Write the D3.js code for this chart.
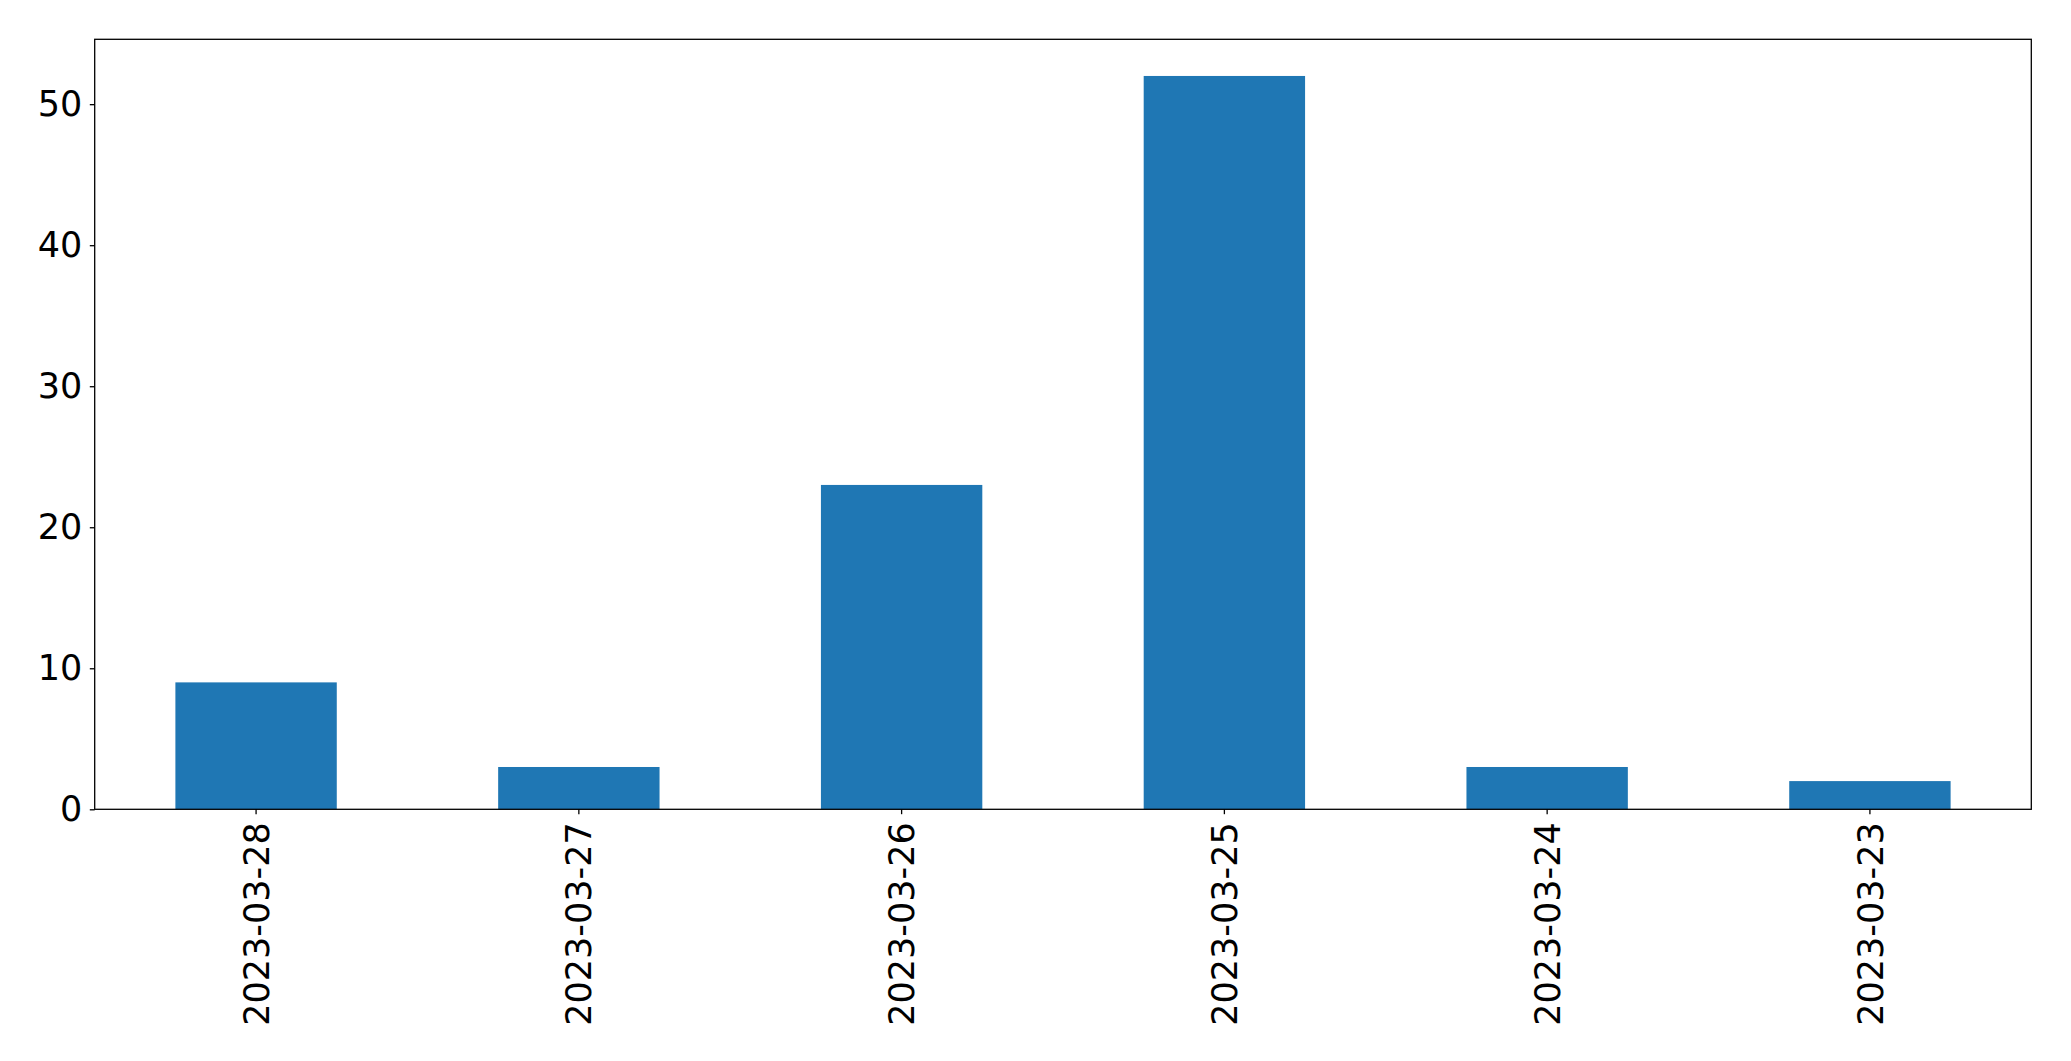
<!DOCTYPE html>
<html><head><meta charset="utf-8">
<script src="https://cdn.jsdelivr.net/npm/d3@7"></script>
<style>body{margin:0;background:#fff;} text{font-family:"DejaVu Sans",sans-serif;}</style>
</head><body>
<svg id="c" width="2071" height="1061"></svg>
<script>
const categories = ["2023-03-28","2023-03-27","2023-03-26","2023-03-25","2023-03-24","2023-03-23"];
const values = [9, 3, 23, 52, 3, 2];
const yTicks = [0, 10, 20, 30, 40, 50];

const L = 94.7, R = 2031.3, T = 39.3, B = 809.3;
const svg = d3.select("#c");
const x = d3.scaleBand().domain(categories).range([L, R]).paddingInner(0.5).paddingOuter(0.25);
const y = d3.scaleLinear().domain([0, d3.max(values) * 1.05]).range([B, T]);

svg.selectAll("rect.bar").data(values).join("rect").attr("class","bar")
  .attr("x", (d,i) => x(categories[i])).attr("width", x.bandwidth())
  .attr("y", d => y(d)).attr("height", d => B - y(d)).attr("fill", "#1f77b4");

const yAxis = svg.append("g").attr("transform", `translate(${L},0)`)
  .call(d3.axisLeft(y).tickValues(yTicks).tickSize(4.9).tickPadding(7.5).tickFormat(d3.format("d")));
yAxis.select(".domain").remove();
yAxis.selectAll("line").attr("stroke","#000").attr("stroke-width",1.3);
yAxis.selectAll("text").attr("font-size","35px").attr("fill","#000").attr("font-family","DejaVu Sans");

const xAxis = svg.append("g").attr("transform", `translate(0,${B})`)
  .call(d3.axisBottom(x).tickSize(4.9).tickPadding(0));
xAxis.select(".domain").remove();
xAxis.selectAll("line").attr("stroke","#000").attr("stroke-width",1.3);
xAxis.selectAll("text").attr("font-size","35px").attr("fill","#000").attr("font-family","DejaVu Sans")
  .attr("text-anchor","end").attr("y",0).attr("dy","0.36em")
  .attr("transform","translate(0,13) rotate(-90)");

svg.append("rect").attr("x", L).attr("y", T).attr("width", R - L).attr("height", B - T)
  .attr("fill","none").attr("stroke","#000").attr("stroke-width",1.3);
</script>
</body></html>
